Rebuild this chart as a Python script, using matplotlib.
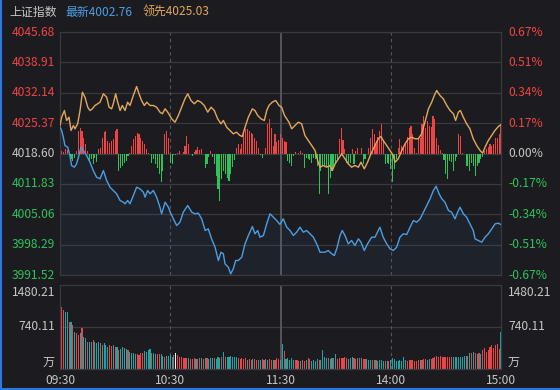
import numpy as np
import matplotlib.pyplot as plt
from matplotlib.lines import Line2D

plt.rcParams['font.family'] = ['Noto Sans CJK SC', 'DejaVu Sans']

BG = '#1c1c20'
GRID = '#393a3f'
RED = '#ee4444'
GREEN = '#2cc35a'
GREY = '#c6c6c6'
BLUE = '#4b9ee4'
ORANGE = '#e3a85b'
TEAL = '#1ea6a6'

# ---- data ----
prev_close = 4018.60
last_price = 4002.76
lead_price = 4025.03

price_ticks = [4045.68, 4038.91, 4032.14, 4025.37, 4018.60, 4011.83, 4005.06, 3998.29, 3991.52]
pct_labels = ['0.67%', '0.51%', '0.34%', '0.17%', '0.00%', '-0.17%', '-0.34%', '-0.51%', '-0.67%']
vol_ticks = [1480.21, 740.11]
time_labels = ['09:30', '10:30', '11:30', '14:00', '15:00']
time_minutes = [0, 60, 120, 180, 240]

# 上证指数 (minutes since open, price)
blue_t = [0, 0.9, 1.8, 2.7, 4.2, 5.4, 6.3, 7.8, 9.0, 10.3, 11.4, 12.7, 14.5, 16.3, 18.1, 19.9,
          21.8, 23.6, 25.4, 27.2, 29.0, 30.8, 32.7, 34.5, 35.4, 36.8, 38.1, 39.9, 41.7, 43.5,
          45.4, 46.3, 47.7, 49.0, 50.8, 52.6, 54.4, 55.3, 57.2, 59.0, 60.0, 61.7, 63.5, 65.3,
          67.1, 69.5, 71.7, 73.5, 75.3, 77.1, 79.0, 80.7, 82.5, 84.4, 86.2, 87.6, 88.9, 89.8,
          91.6, 92.9, 94.3, 95.6, 97.0, 98.9, 100.7, 102.5, 104.7, 106.1, 107.6, 108.8, 110.7,
          112.5, 114.3, 116.1, 117.9, 119.7, 121.5, 123.4, 125.2, 127.0, 128.8, 130.6, 132.4,
          134.2, 136.1, 137.9, 139.7, 141.5, 144.2, 146.0, 147.9, 149.3, 150.6, 152.4, 153.6,
          155.1, 156.9, 158.7, 160.5, 162.4, 163.8, 165.6, 167.4, 169.6, 171.4, 174.1, 175.9,
          177.8, 179.6, 181.4, 183.2, 185.0, 186.8, 188.7, 190.5, 192.3, 194.1, 196.0, 197.8,
          199.6, 201.4, 203.2, 204.7, 206.3, 207.8, 209.5, 211.4, 213.1, 215.0, 216.4, 217.7,
          219.5, 221.3, 223.1, 224.9, 225.9, 227.7, 229.5, 231.3, 233.1, 235.0, 236.8, 238.6, 240]
blue_p = [4024.46, 4023.73, 4022.23, 4020.38, 4020.00, 4018.15, 4015.93, 4015.55, 4016.30, 4018.15,
          4020.00, 4019.27, 4018.15, 4016.66, 4014.81, 4013.32, 4012.96, 4014.81, 4012.58, 4011.09,
          4010.35, 4009.62, 4008.12, 4007.74, 4007.39, 4008.12, 4007.39, 4009.24, 4011.09, 4010.73,
          4009.97, 4008.86, 4010.35, 4009.62, 4010.35, 4008.86, 4006.63, 4005.16, 4007.74, 4006.63,
          4005.52, 4004.04, 4002.55, 4003.29, 4005.52, 4007.01, 4005.52, 4005.16, 4005.29, 4004.04,
          4001.44, 4001.81, 3999.58, 3997.71, 3994.75, 3996.60, 3996.24, 3994.01, 3993.26, 3991.78,
          3992.90, 3994.75, 3994.75, 3995.49, 3998.47, 4000.32, 4002.33, 4000.70, 4001.44, 3999.94,
          4000.32, 4002.93, 4005.16, 4004.40, 4003.67, 4002.80, 4004.04, 4002.17, 4001.44, 4000.32,
          4001.06, 4002.17, 4001.06, 4001.44, 4000.70, 3999.94, 3998.47, 3996.60, 3996.60, 3996.98,
          3996.24, 3995.86, 3997.36, 4000.32, 4001.44, 4000.32, 3998.47, 3999.21, 3998.09, 3999.58,
          3998.83, 3996.98, 3998.47, 3999.94, 3999.94, 4002.17, 3999.94, 3998.47, 3997.36, 3996.98,
          3997.71, 3999.94, 4000.70, 4000.55, 4002.17, 4003.67, 4003.29, 4004.04, 4005.52, 4007.01,
          4008.50, 4010.35, 4011.31, 4009.62, 4008.50, 4007.74, 4005.89, 4005.52, 4004.04, 4005.52,
          4006.63, 4005.16, 4004.40, 4002.93, 4001.44, 3999.58, 3999.21, 3998.83, 3999.94, 4000.70,
          4001.81, 4002.93, 4003.06, 4002.76]

# 领先指标
orange_t = [0, 0.9, 2.4, 3.6, 4.9, 6.0, 7.3, 8.2, 9.6, 10.9, 12.2, 13.6, 15.1, 16.3, 17.6, 19.0,
            20.5, 21.8, 23.6, 25.4, 26.7, 28.1, 29.0, 30.3, 31.4, 32.7, 33.9, 35.4, 36.8, 38.1,
            39.9, 41.7, 43.0, 44.4, 45.9, 47.2, 49.0, 50.8, 52.6, 54.4, 55.7, 57.2, 58.6, 60.8,
            62.6, 64.4, 66.2, 68.0, 69.5, 71.3, 73.1, 74.9, 76.7, 78.5, 80.4, 82.2, 84.0, 85.8,
            87.6, 88.9, 90.7, 92.5, 94.3, 96.1, 97.9, 99.2, 100.7, 102.5, 104.7, 106.1, 107.6,
            109.4, 111.2, 112.5, 113.7, 115.5, 117.4, 119.2, 120.6, 122.2, 124.6, 126.1, 127.9,
            129.7, 131.5, 133.3, 135.1, 137.0, 138.8, 140.2, 141.5, 143.3, 145.1, 146.9, 148.2,
            149.7, 151.5, 153.3, 155.1, 156.9, 158.7, 160.5, 162.4, 163.8, 165.6, 167.4, 169.2,
            171.4, 173.2, 174.7, 175.9, 177.8, 179.6, 181.4, 182.3, 184.1, 186.0, 187.8, 189.6,
            191.4, 193.2, 195.0, 196.8, 198.6, 200.5, 202.3, 203.7, 205.0, 206.8, 208.6, 210.5,
            212.3, 214.1, 215.3, 216.8, 217.9, 219.5, 221.3, 223.1, 224.9, 226.8, 228.6, 230.0,
            231.3, 233.1, 234.9, 236.7, 238.6, 240]
orange_p = [4024.84, 4026.69, 4028.18, 4025.96, 4026.69, 4023.73, 4024.84, 4024.10, 4025.22, 4028.18,
            4032.26, 4031.15, 4028.92, 4028.18, 4028.56, 4029.30, 4029.68, 4030.04, 4031.91, 4031.15,
            4028.92, 4028.56, 4029.68, 4031.91, 4030.04, 4028.18, 4029.30, 4028.18, 4030.04, 4029.30,
            4031.53, 4033.53, 4031.91, 4030.41, 4029.30, 4030.04, 4029.30, 4029.30, 4028.92, 4027.81,
            4027.45, 4028.56, 4027.81, 4026.33, 4025.58, 4027.07, 4028.92, 4030.79, 4031.91, 4030.41,
            4029.68, 4030.41, 4030.04, 4029.30, 4027.81, 4028.92, 4028.18, 4026.33, 4025.22, 4025.96,
            4024.46, 4023.73, 4022.99, 4023.35, 4022.61, 4022.39, 4024.46, 4026.69, 4028.56, 4028.18,
            4027.07, 4026.33, 4025.96, 4028.18, 4029.30, 4030.04, 4030.41, 4029.30, 4028.92, 4027.07,
            4025.58, 4024.10, 4024.84, 4025.58, 4025.22, 4022.61, 4021.50, 4020.38, 4019.27, 4017.04,
            4015.55, 4015.93, 4015.55, 4015.93, 4014.81, 4016.30, 4017.42, 4018.53, 4017.42, 4016.30,
            4015.55, 4015.93, 4015.55, 4016.66, 4015.18, 4016.66, 4018.53, 4020.38, 4021.88, 4022.39,
            4021.50, 4020.38, 4019.27, 4018.15, 4016.66, 4017.42, 4019.27, 4020.76, 4021.88, 4022.23,
            4021.88, 4021.88, 4022.99, 4025.58, 4028.56, 4030.04, 4031.53, 4032.64, 4031.53, 4030.79,
            4029.30, 4028.18, 4027.45, 4025.96, 4027.81, 4028.18, 4026.69, 4025.22, 4024.10, 4021.88,
            4020.38, 4019.27, 4018.67, 4020.00, 4021.50, 4022.61, 4023.73, 4024.62, 4025.03]

# red/green strength bars, one per minute (arbitrary units)
strength = [2, 3, 2, 5, 4, 0, -5, -7, -4, 3, 23, 26, 23, 16, 10, 3, -8, -5, -10, -4,
            -8, 5, 6, 16, 22, 23, 13, 11, 13, 15, 23, 25, -17, -14, -12, -9, -7, -2, 1, 8,
            15, 18, 21, 20, 16, 13, 10, 5, 1, 0, -9, -5, -10, -14, -20, -28, -17, 20, 23, 16,
            -9, -10, -1, -1, 1, 3, 0, 2, 8, 18, 10, 0, -2, 2, 4, 7, 4, 5, 0, -14,
            -10, -3, 3, -3, -10, -22, -35, -47, -25, -17, -20, -24, -27, -20, -13, -6, 6, 10, 5, 10,
            20, 25, 25, 23, 21, 20, 16, 13, 6, -1, -4, 0, 6, 30, 35, 26, 8, 20, 12, 14,
            20, 16, 13, 12, -7, -9, -12, -2, 2, 0, 1, 3, 1, -14, -4, -5, -6, -9, -4, -5,
            -12, -40, -17, -12, -12, -13, -40, -24, -17, -13, -9, -5, 15, 26, 14, 5, -9, -10, -9, 5,
            -10, 3, 6, 0, 6, -10, -5, 0, 6, 16, 25, 20, 10, 17, 23, 30, 13, -10, -9, -10,
            -15, -28, -15, -5, 6, 15, 8, 6, 10, 17, 26, 28, 20, 6, 1, 15, 16, 30, 38, 26,
            33, 28, 27, 38, 35, 16, 9, 4, 1, -6, -20, -25, -7, -8, -17, -7, -3, 20, 18, 1,
            0, -12, -12, -17, -9, -12, -22, -12, -9, -5, -3, 3, 5, 7, 10, 8, 10, 16, 16, 20, 30]

# volume (万), one per minute
volume = [1480, 1100, 1040, 1010, 1000, 830, 830, 775, 660, 630,
          600, 630, 715, 570, 540, 480, 480, 480, 510, 480,
          450, 480, 450, 420, 450, 420, 390, 420, 405, 420,
          390, 390, 335, 345, 380, 365, 345, 335, 305, 290,
          275, 265, 265, 245, 275, 290, 325, 305, 335, 345,
          275, 275, 265, 265, 265, 265, 230, 205, 230, 230,
          245, 215, 245, 275, 245, 205, 205, 190, 190, 190,
          190, 170, 170, 190, 170, 170, 190, 190, 170, 190,
          190, 170, 190, 190, 190, 170, 205, 190, 205, 295,
          205, 205, 215, 230, 215, 215, 205, 190, 170, 190,
          170, 190, 160, 170, 160, 170, 170, 160, 160, 160,
          170, 160, 170, 160, 170, 160, 160, 160, 190, 170,
          160,
          440, 323, 170, 188, 159, 188, 159, 159, 159, 147,
          147, 159, 147, 159, 188, 170, 147, 159, 147, 170,
          159, 159, 335, 206, 188, 188, 170, 188, 188, 264,
          170, 188, 188, 188, 206, 188, 170, 188, 206, 188,
          170, 188, 188, 188, 170, 170, 170, 159, 159, 159,
          159, 159, 147, 159, 159, 147, 147, 147, 147, 159,
          188, 170, 147, 147, 159, 147, 217, 159, 147, 159,
          159, 159, 147, 147, 159, 159, 159, 170, 170, 159,
          170, 170, 188, 206, 229, 206, 229, 206, 217, 206,
          206, 206, 217, 206, 206, 217, 206, 206, 217, 229,
          229, 229, 276, 276, 305, 288, 264, 276, 264, 335,
          364, 305, 335, 382, 423, 364, 423, 440, 346, 658]
# r = up minute, t = down minute, w = marked minute
vol_dir = ("trrttrtrtr" "rtrttrttrt" "ttrttttrrt" "rtrttttrtt" "ttrrrrtttt" "rttrrttrtt"
           "trtwrrrrrr" "trrrtrrtrt" "rtttrtttrt" "rttttttrrr" "rrtrrtrrtt" "rrttrrtrrr" "t"
           "trtttttrrr" "trrtrrtttt" "rttttrttrt" "rrrrrrtttr" "rtrtrrtttr" "trttttrtrt"
           "ttttttttrr" "rrrrrtrrrt" "trrrrrrrrr" "rrrttttttt" "trtrtrtrtr" "rrrrrrrrrt")
auction_volume = 510

# ---- figure ----
W, H = 560, 390
fig = plt.figure(figsize=(W / 100, H / 100), dpi=100, facecolor=BG)
ax = fig.add_axes([60 / W, 1 - 275 / H, 441 / W, 243 / H], facecolor=BG)
axv = fig.add_axes([60 / W, 1 - 369 / H, 441 / W, 84 / H], facecolor=BG)

ymin, ymax = price_ticks[-1], price_ticks[0]
ax.set_xlim(0, 240)
ax.set_ylim(ymin, ymax)

for v in price_ticks:
    ax.axhline(v, color=GRID, lw=0.9, zorder=1)

# strength bars around previous close
minutes = np.arange(len(strength))
unit = (ymax - ymin) / 243
s = np.array(strength)
ax.bar(minutes, s * unit, bottom=prev_close, width=0.6,
       color=[RED if v >= 0 else GREEN for v in s], linewidth=0, zorder=2,
       antialiased=False)

# price lines
ax.fill_between(blue_t, blue_p, ymin, color='#3b6fa8', alpha=0.08, lw=0, zorder=2)
ax.plot(orange_t, orange_p, color=ORANGE, lw=1.0, zorder=4)
ax.plot(blue_t, blue_p, color=BLUE, lw=1.0, zorder=4)

# axis labels
for v, pct in zip(price_ticks, pct_labels):
    c = RED if v > prev_close + 0.01 else (GREEN if v < prev_close - 0.01 else GREY)
    ax.text(-5 / 441, v, f'{v:.2f}', transform=ax.get_yaxis_transform(),
            ha='right', va='center', color=c, fontsize=8.7)
    ax.text(1 + 7 / 441, v, pct, transform=ax.get_yaxis_transform(),
            ha='left', va='center', color=c, fontsize=8.7)

# volume panel
axv.set_xlim(0, 240)
axv.set_ylim(0, vol_ticks[0])
axv.axhline(vol_ticks[1], color=GRID, lw=0.9, zorder=1)
vcolors = {'r': '#e5484a', 't': TEAL, 'w': '#f0f0f0'}
vm = np.arange(len(volume))
axv.bar(vm, volume, width=0.6, color=[vcolors[d] for d in vol_dir], linewidth=0, zorder=2,
        antialiased=False)
axv.bar([-0.15], [auction_volume], width=0.35, color='#f0f0f0', linewidth=0, zorder=3,
        antialiased=False)

for v, txt in [(1340, '1480.21'), (vol_ticks[1], '740.11'), (125, '万')]:
    axv.text(-5 / 441, v, txt, transform=axv.get_yaxis_transform(),
             ha='right', va='center', color=GREY, fontsize=8.7)
    axv.text(1 + 7 / 441, v, txt, transform=axv.get_yaxis_transform(),
             ha='left', va='center', color=GREY, fontsize=8.7)

for a in (ax, axv):
    a.set_xticks([])
    a.set_yticks([])
    for sp in a.spines.values():
        sp.set_color(GRID)
        sp.set_linewidth(0.9)
    for m in (60, 180):
        a.axvline(m, color='#55565c', lw=0.8, ls=(0, (3, 3)), zorder=1)
    a.axvline(120, color='#55565c', lw=1.4, zorder=1)

for m, lab in zip(time_minutes, time_labels):
    axv.text(m, -12 / 84, lab, transform=axv.get_xaxis_transform(),
             ha='center', va='center', color=GREY, fontsize=8.7)

# header
hy = 1 - 12.5 / H
fig.text(9 / W, hy, '上证指数', color=GREY, fontsize=8.6, va='center')
fig.text(65 / W, hy, f'最新{last_price:.2f}', color=BLUE, fontsize=8.6, va='center')
fig.text(143 / W, hy, f'领先{lead_price:.2f}', color=ORANGE, fontsize=8.6, va='center')

# window frame
fig.add_artist(Line2D([0.8 / W, 0.8 / W], [0, 1], transform=fig.transFigure, color='#2a78e0', lw=1.5))
fig.add_artist(Line2D([0, 1], [1.2 / H, 1.2 / H], transform=fig.transFigure, color='#2a78e0', lw=1.5))

fig.savefig('out.png', dpi=100, facecolor=BG)
